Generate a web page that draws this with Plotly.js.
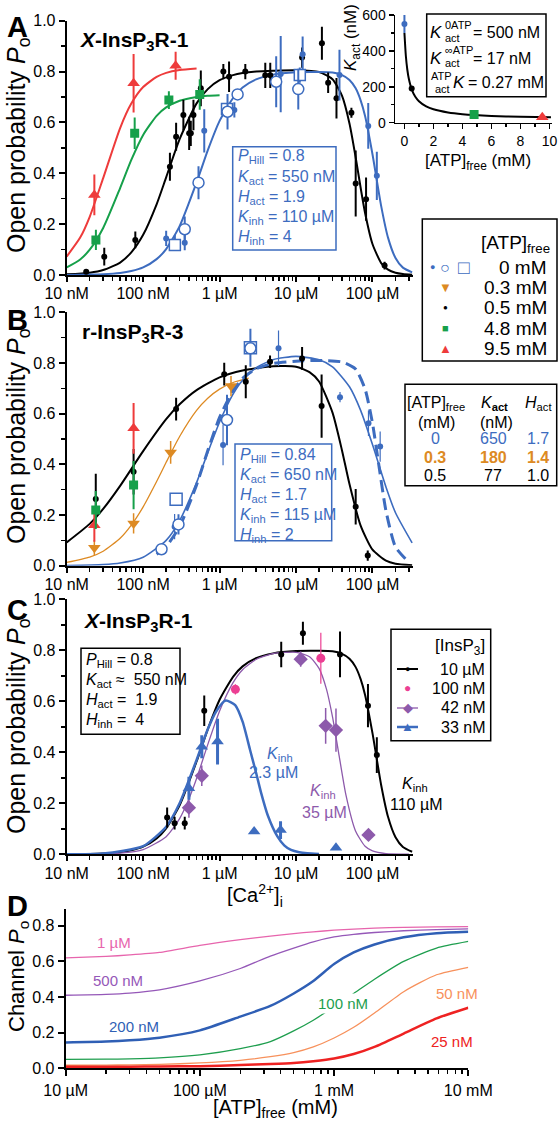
<!DOCTYPE html>
<html><head><meta charset="utf-8">
<script src="https://cdn.plot.ly/plotly-3.0.1.min.js"></script>
<style>html,body{margin:0;padding:0;background:#fff}</style>
</head><body><div id="chart" style="width:558px;height:1123px"></div>
<script>
// ---------- tick labels ----------
const caTickVals = [0.01, 0.1, 1, 10, 100];
const caTickText = ['10 nM', '100 nM', '1 µM', '10 µM', '100 µM'];
const atpTickVals = [10, 100, 1000, 10000];
const atpTickText = ['10 µM', '100 µM', '1 mM', '10 mM'];
const poTickVals = [0, 0.2, 0.4, 0.6, 0.8, 1.0];
const poTickText = ['0.0', '0.2', '0.4', '0.6', '0.8', '1.0'];
const insetXTicks = [0, 2, 4, 6, 8, 10];
const insetYTicks = [0, 200, 400, 600];

// ---------- Panel A curves (x = [Ca2+] in µM) ----------
const A_curveX = [0.01,0.02,0.03,0.05,0.07,0.1,0.15,0.2,0.3,0.5,0.7,1,1.5,2,3,5,10,20,30,40,50,60,70,80,100,130,160,200,250,330];
const A_blueCurve = [0.0004,0.0015,0.0032,0.0083,0.0156,0.030,0.0625,0.102,0.192,0.364,0.49,0.606,0.696,0.737,0.769,0.788,0.797,0.798,0.796,0.786,0.767,0.735,0.687,0.625,0.475,0.271,0.146,0.067,0.029,0.010];
const A_blackCurve = [0.0025,0.0091,0.0195,0.049,0.089,0.158,0.278,0.384,0.534,0.675,0.731,0.766,0.786,0.794,0.80,0.803,0.805,0.798,0.770,0.704,0.596,0.466,0.343,0.244,0.122,0.047,0.021,0.009,0.004,0.001];
const A_greenX = [0.01,0.015,0.02,0.03,0.05,0.07,0.1,0.15,0.2,0.3,0.5,0.7,1];
const A_greenCurve = [0.0297,0.0612,0.0994,0.185,0.342,0.4525,0.551,0.626,0.659,0.685,0.700,0.705,0.707];
const A_redX = [0.01,0.015,0.02,0.03,0.05,0.07,0.1,0.15,0.2,0.3,0.5];
const A_redCurve = [0.0725,0.147,0.229,0.381,0.578,0.674,0.739,0.779,0.795,0.806,0.812];

// ---------- Panel A data ----------
const A_blueDotX = [0.20,0.26,0.35,0.63,1.56,6.3,12.2,37,88,114];
const A_blueDotY = [0.144,0.127,0.127,0.567,0.649,0.79,0.868,0.786,0.586,0.39];
const A_blueDotE = [0.03,0.03,0.03,0.085,0.03,0.15,0.07,0.1,0.09,0.095];
const A_blueCircX = [0.35,0.53,1.27,1.72,5.5,10.7];
const A_blueCircY = [0.18,0.363,0.642,0.71,0.76,0.731];
const A_blueCircE = [0.05,0.065,0.07,0,0.1,0.08];
const A_blueSqX = [0.26,1.25,11.2];
const A_blueSqY = [0.118,0.653,0.786];
const A_blueSqE = [0.02,0,0.03];
const A_blackX = [0.018,0.031,0.079,0.224,0.27,0.336,0.40,0.42,0.455,0.568,1.12,1.33,2.17,3.96,4.6,12.0,21.8,26.3,33.8,53,60.3,82.4,144];
const A_blackY = [0.013,0.072,0.138,0.426,0.544,0.629,0.557,0.557,0.629,0.734,0.80,0.78,0.80,0.785,0.785,0.855,0.911,0.756,0.695,0.638,0.36,0.298,0.037];
const A_blackE = [0,0.035,0.033,0.055,0.055,0.06,0.065,0.05,0.06,0.07,0.03,0.06,0.03,0.05,0.05,0.04,0.065,0.04,0.08,0.02,0.13,0.085,0.015];
const A_greenX_d = [0.0241,0.0775,0.217,0.55];
const A_greenY_d = [0.138,0.557,0.688,0.71];
const A_greenE_d = [0.04,0.062,0.035,0.06];
const A_redX_d = [0.023,0.075,0.266];
const A_redY_d = [0.315,0.754,0.823];
const A_redE_d = [0.08,0.115,0.055];

// ---------- Panel B curves ----------
const B_blackX = [0.01,0.02,0.03,0.05,0.1,0.2,0.3,0.5,1,2,5,10,15,20,30,40,50,70,100,150,200,330];
const B_blackCurve = [0.092,0.165,0.224,0.315,0.452,0.578,0.637,0.693,0.743,0.77,0.787,0.785,0.764,0.727,0.604,0.454,0.322,0.158,0.063,0.020,0.008,0.002];
const B_orangeX = [0.01,0.02,0.03,0.05,0.07,0.1,0.15,0.2,0.3,0.5,0.7,1,1.5,2.4];
const B_orangeCurve = [0.013,0.034,0.057,0.108,0.16,0.232,0.332,0.408,0.51,0.613,0.661,0.697,0.723,0.74];
const B_blueX = [0.01,0.03,0.05,0.1,0.2,0.3,0.5,0.7,1,1.5,2,3,5,10,20,30,50,70,100,150,200,330];
const B_blueCurve = [0.0007,0.0045,0.0106,0.0335,0.0998,0.178,0.328,0.446,0.567,0.677,0.732,0.781,0.813,0.826,0.8125,0.785,0.706,0.613,0.478,0.311,0.209,0.09];
const B_dashX = [0.15,0.2,0.3,0.5,0.7,1,1.5,2,3,5,10,20,40,60,80,100,120,150,200,300];
const B_dashCurve = [0.045,0.076,0.154,0.319,0.454,0.585,0.692,0.739,0.777,0.798,0.807,0.81,0.804,0.776,0.697,0.5625,0.405,0.217,0.074,0.013];

// ---------- Panel B data ----------
const B_blackX_d = [0.024,0.075,0.27,1.15,2.2,4.57,12,21.6,60.3,86.7];
const B_blackY_d = [0.263,0.371,0.618,0.756,0.726,0.805,0.818,0.63,0.233,0.04];
const B_blackE_d = [0.1,0.09,0.045,0.045,0.065,0.025,0.045,0.125,0.07,0.02];
const B_greenX_d = [0.024,0.075];
const B_greenY_d = [0.22,0.318];
const B_greenE_d = [0.075,0.095];
const B_redX_d = [0.023,0.075];
const B_redY_d = [0.16,0.542];
const B_redE_d = [0.065,0.1];
const B_orangeX_d = [0.023,0.075,0.229,1.41];
const B_orangeY_d = [0.071,0.167,0.447,0.709];
const B_orangeE_d = [0.03,0.04,0.045,0.04];
const B_blueCircX = [0.174,0.29,1.25,2.53];
const B_blueCircY = [0.065,0.163,0.575,0.858];
const B_blueCircE = [0,0.04,0.1,0];
const B_blueSqX = [0.27,2.53];
const B_blueSqY = [0.262,0.86];
const B_blueSqE = [0,0.075];
const B_blueDotX = [0.258,1.11,5.9,37.6,88.6,126];
const B_blueDotY = [0.154,0.476,0.858,0.665,0.562,0.47];
const B_blueDotE = [0.05,0.08,0.07,0.02,0.05,0.06];

// ---------- Panel C curves ----------
const C_blackCurve = A_blueCurve;
const C_purpleX = [0.01,0.05,0.1,0.2,0.3,0.4,0.5,0.7,1,1.5,2,3,5,10,15,20,25,30,36,45,60,80,100,150,300];
const C_purpleCurve = [0.0002,0.0047,0.0185,0.069,0.14,0.22,0.297,0.43,0.562,0.673,0.724,0.764,0.787,0.792,0.775,0.729,0.648,0.539,0.4,0.232,0.0917,0.0315,0.0132,0.0026,0.0002];
const C_blueX = [0.01,0.03,0.1,0.2,0.3,0.5,0.7,0.9,1.2,1.6,2,2.5,3,3.5,4.3,5.7,7,8.6,11,14,20];
const C_blueCurve = [0.0004,0.0034,0.032,0.108,0.2,0.37,0.49,0.56,0.603,0.585,0.52,0.41,0.32,0.24,0.15,0.07,0.035,0.017,0.008,0.004,0.001];

// ---------- Panel C data ----------
const C_blackX_d = [0.206,0.258,0.35,0.63,6.4,12.3,37.6,87.3,114];
const C_blackY_d = [0.144,0.122,0.122,0.563,0.784,0.867,0.784,0.583,0.389];
const C_blackE_d = [0.04,0.025,0.025,0.06,0.05,0.045,0.09,0.085,0.07];
const C_pinkX_d = [1.61,21.1];
const C_pinkY_d = [0.647,0.769];
const C_pinkE_d = [0.02,0.1];
const C_purpleX_d = [0.397,0.585,11.5,24.4,33.3,88.6];
const C_purpleY_d = [0.183,0.308,0.765,0.504,0.487,0.076];
const C_purpleE_d = [0.04,0.04,0.03,0.07,0.085,0];
const C_blueX_d = [0.397,0.585,0.94,2.83,6.27,33.3];
const C_blueY_d = [0.259,0.422,0.442,0.089,0.095,0.026];
const C_blueE_d = [0.045,0.045,0.09,0,0.035,0];

// ---------- Panel D curves (x = [ATP]free in µM) ----------
const D_x = [10,20,30,50,100,200,335,500,700,1000,1400,2000,3300,5800,10000];
const D_1uM   = [0.62,0.628,0.636,0.65,0.69,0.722,0.742,0.756,0.766,0.775,0.781,0.787,0.791,0.794,0.795];
const D_500nM = [0.41,0.415,0.422,0.44,0.49,0.56,0.63,0.675,0.71,0.737,0.752,0.762,0.772,0.778,0.782];
const D_200nM = [0.145,0.15,0.157,0.172,0.213,0.29,0.35,0.42,0.49,0.585,0.65,0.695,0.735,0.758,0.766];
const D_100nM = [0.05,0.051,0.053,0.058,0.075,0.11,0.15,0.21,0.27,0.345,0.42,0.5,0.6,0.675,0.712];
const D_50nM  = [0.017,0.018,0.019,0.022,0.03,0.045,0.065,0.088,0.12,0.17,0.23,0.31,0.43,0.525,0.567];
const D_25nM  = [0.008,0.008,0.009,0.01,0.012,0.018,0.024,0.03,0.04,0.055,0.08,0.12,0.195,0.28,0.34];

// ---------- Inset (Kact vs ATP) ----------
const I_curveX = [0,0.1,0.2,0.3,0.5,0.75,1,1.5,2,3,4,6,8,10.1];
const I_curveY = [500,370,295,246,186,145,120,91,74.5,57,47.6,37.8,32.8,29.7];
const I_blueX = [0];   const I_blueY = [550]; const I_blueE = [50];
const I_blackX = [0.5]; const I_blackY = [190];
const I_greenX = [4.8]; const I_greenY = [45];
const I_redX = [9.5];   const I_redY = [30];

// ---------- colours ----------
const BLUE = '#3d6cbf', RED = '#ee3b3b', GREEN = '#16a04a', ORANGE = '#dd8a23';
const PURPLE = '#8d5aab', PINK = '#ec3f93';
const D_PINK = '#e765ad', D_PURPLE = '#9558b8', D_BLUE = '#2f5fb5', D_GREEN = '#1e9e4e', D_ORANGE = '#f7915c', D_RED = '#ee2222';

// ---------- helpers ----------
const W = 558, H = 1123;
const fx = p => p / W, fy = p => 1 - p / H;
function curve(x, y, xa, ya, color, width, dash) {
  return {x, y, xaxis: xa, yaxis: ya, mode: 'lines', hoverinfo: 'skip', showlegend: false,
    line: {color, width, dash: dash || 'solid', shape: 'spline', smoothing: 0.6}};
}
function pts(x, y, err, xa, ya, symbol, size, lineColor, fill, lw, ebw) {
  const t = {x, y, xaxis: xa, yaxis: ya, mode: 'markers', showlegend: false, hoverinfo: 'skip',
    marker: {symbol, size, color: fill, line: {color: lineColor, width: lw}}};
  if (err) t.error_y = {type: 'data', array: err, visible: true, color: lineColor, thickness: ebw, width: 0};
  return t;
}
function logMinor(lo, hi) {
  const v = [];
  for (let d = lo; d < hi; d *= 10) for (let k = 2; k <= 9; k++) { const t = d * k; if (t <= hi) v.push(+t.toPrecision(3)); }
  return v;
}
const axBase = {showline: true, linecolor: 'black', linewidth: 2, ticks: 'outside', ticklen: 6, tickwidth: 2,
  tickcolor: 'black', showgrid: false, zeroline: false, tickfont: {size: 16, color: 'black'}, fixedrange: true};
function caAxis(anchor) {
  return Object.assign({}, axBase, {type: 'log', range: [-2, 2.53], domain: [fx(66.7), fx(413)], anchor, ticklen: 5,
    ticklabelstandoff: -2,
    tickmode: 'array', tickvals: caTickVals, ticktext: caTickText,
    minor: {tickmode: 'array', tickvals: logMinor(0.01, 340), ticks: 'outside', ticklen: 4, tickwidth: 1.5, tickcolor: 'black'}});
}
function poAxis(anchor, top, bottom) {
  return Object.assign({}, axBase, {range: [0, 1], domain: [fy(bottom), fy(top)], anchor,
    tickmode: 'array', tickvals: poTickVals, ticktext: poTickText,
    minor: {tickmode: 'array', tickvals: [0.1, 0.3, 0.5, 0.7, 0.9], ticks: 'outside', ticklen: 4, tickwidth: 1.5, tickcolor: 'black'}});
}

const traces = [];
// Panel A
traces.push(curve(A_redX, A_redCurve, 'x', 'y', RED, 2));
traces.push(curve(A_greenX, A_greenCurve, 'x', 'y', GREEN, 2));
traces.push(curve(A_curveX, A_blackCurve, 'x', 'y', 'black', 2));
traces.push(curve(A_curveX, A_blueCurve, 'x', 'y', BLUE, 2));
traces.push(pts(A_blackX, A_blackY, A_blackE, 'x', 'y', 'circle', 6, 'black', 'black', 0, 2));
traces.push(pts(A_blueDotX, A_blueDotY, A_blueDotE, 'x', 'y', 'circle', 6, BLUE, BLUE, 0, 2));
traces.push(pts(A_blueSqX, A_blueSqY, A_blueSqE, 'x', 'y', 'square', 11, BLUE, 'white', 1.5, 2));
traces.push(pts(A_blueCircX, A_blueCircY, A_blueCircE, 'x', 'y', 'circle', 11, BLUE, 'white', 1.5, 2));
traces.push(pts(A_greenX_d, A_greenY_d, A_greenE_d, 'x', 'y', 'square', 9, GREEN, GREEN, 0, 2));
traces.push(pts(A_redX_d, A_redY_d, A_redE_d, 'x', 'y', 'triangle-up', 11, RED, RED, 0, 2));
// Panel B
traces.push(curve(B_blackX, B_blackCurve, 'x2', 'y2', 'black', 2));
traces.push(curve(B_orangeX, B_orangeCurve, 'x2', 'y2', ORANGE, 1.3));
traces.push(curve(B_blueX, B_blueCurve, 'x2', 'y2', BLUE, 1.6));
traces.push(curve(B_dashX, B_dashCurve, 'x2', 'y2', BLUE, 3, '12px,6px'));
traces.push(pts(B_blackX_d, B_blackY_d, B_blackE_d, 'x2', 'y2', 'circle', 6, 'black', 'black', 0, 2));
traces.push(pts(B_blueDotX, B_blueDotY, B_blueDotE, 'x2', 'y2', 'circle', 6, BLUE, BLUE, 0, 1.2));
traces.push(pts(B_blueSqX, B_blueSqY, B_blueSqE, 'x2', 'y2', 'square', 12, BLUE, 'white', 1.5, 2));
traces.push(pts(B_blueCircX, B_blueCircY, B_blueCircE, 'x2', 'y2', 'circle', 11, BLUE, 'white', 1.5, 2));
traces.push(pts(B_orangeX_d, B_orangeY_d, B_orangeE_d, 'x2', 'y2', 'triangle-down', 11, ORANGE, ORANGE, 0, 1.5));
traces.push(pts(B_redX_d, B_redY_d, B_redE_d, 'x2', 'y2', 'triangle-up', 11, RED, RED, 0, 2));
traces.push(pts(B_greenX_d, B_greenY_d, B_greenE_d, 'x2', 'y2', 'square', 9, GREEN, GREEN, 0, 2));
// Panel C
traces.push(curve(A_curveX, C_blackCurve, 'x3', 'y3', 'black', 2));
traces.push(curve(C_purpleX, C_purpleCurve, 'x3', 'y3', PURPLE, 1.3));
traces.push(curve(C_blueX, C_blueCurve, 'x3', 'y3', BLUE, 2.5));
traces.push(pts(C_blackX_d, C_blackY_d, C_blackE_d, 'x3', 'y3', 'circle', 6, 'black', 'black', 0, 2));
traces.push(pts(C_pinkX_d, C_pinkY_d, C_pinkE_d, 'x3', 'y3', 'circle', 9, PINK, PINK, 0, 1.2));
traces.push(pts(C_purpleX_d, C_purpleY_d, C_purpleE_d, 'x3', 'y3', 'diamond', 11, PURPLE, PURPLE, 0, 1.5));
traces.push(pts(C_blueX_d, C_blueY_d, C_blueE_d, 'x3', 'y3', 'triangle-up', 11, BLUE, BLUE, 0, 3));
// Panel D
traces.push(curve(D_x, D_1uM, 'x4', 'y4', D_PINK, 1.3));
traces.push(curve(D_x, D_500nM, 'x4', 'y4', D_PURPLE, 1.3));
traces.push(curve(D_x, D_200nM, 'x4', 'y4', D_BLUE, 2.5));
traces.push(curve(D_x, D_100nM, 'x4', 'y4', D_GREEN, 1.3));
traces.push(curve(D_x, D_50nM, 'x4', 'y4', D_ORANGE, 1.3));
traces.push(curve(D_x, D_25nM, 'x4', 'y4', D_RED, 2.5));
// Inset
traces.push(curve(I_curveX, I_curveY, 'x5', 'y5', 'black', 2));
traces.push(pts(I_blueX, I_blueY, I_blueE, 'x5', 'y5', 'circle', 6, BLUE, BLUE, 0, 2));
traces.push(pts(I_blackX, I_blackY, null, 'x5', 'y5', 'circle', 6, 'black', 'black', 0, 2));
traces.push(pts(I_greenX, I_greenY, null, 'x5', 'y5', 'square', 9, GREEN, GREEN, 0, 2));
traces.push(pts(I_redX, I_redY, null, 'x5', 'y5', 'triangle-up', 11, RED, RED, 0, 2));

// ---------- annotations ----------
const ann = [];
function A(x, y, text, size, o) {
  const a = Object.assign({xref: 'paper', yref: 'paper', x: fx(x), y: fy(y), text, showarrow: false,
    xanchor: 'center', yanchor: 'middle'}, o || {});
  a.font = Object.assign({family: 'Liberation Sans, Arial, sans-serif', size, color: 'black'}, (o && o.font) || {});
  a.font.size = size;
  ann.push(a);
}
function col(c) { return {font: {color: c}}; }
// panel letters & titles
A(17, 27, '<b>A</b>', 29); A(17, 320, '<b>B</b>', 29); A(17, 610, '<b>C</b>', 29); A(17, 906, '<b>D</b>', 29);
A(78, 41, '<b><i>X</i>-InsP<sub>3</sub>R-1</b>', 21, {xanchor: 'left'});
A(80, 333, '<b>r-InsP<sub>3</sub>R-3</b>', 21, {xanchor: 'left'});
A(82, 622, '<b><i>X</i>-InsP<sub>3</sub>R-1</b>', 21, {xanchor: 'left'});
// axis titles
const yt = 'Open probability <i>P</i><sub>o</sub>';
A(18, 146, yt, 25, {textangle: -90});
A(18, 437, yt, 25, {textangle: -90});
A(18, 727, yt, 25, {textangle: -90});
A(18, 977, 'Channel <i>P</i><sub>o</sub>', 22, {textangle: -90});
A(255, 895, '[Ca<sup>2+</sup>]<sub>i</sub>', 20);
A(275, 1108, '[ATP]<sub>free</sub> (mM)', 20);
// parameter boxes
function paramLines(x, ys, lines, color) {
  lines.forEach((t, i) => A(x, ys[i], t, 16, {xanchor: 'left', font: {color}}));
}
paramLines(236, [157, 177, 197, 217, 237],
  ['<i>P</i><sub>Hill</sub> = 0.8', '<i>K</i><sub>act</sub> = 550 nM', '<i>H</i><sub>act</sub> = 1.9', '<i>K</i><sub>inh</sub> = 110 µM', '<i>H</i><sub>inh</sub> = 4'], BLUE);
paramLines(238, [455, 475, 495, 515, 535],
  ['<i>P</i><sub>Hill</sub> = 0.84', '<i>K</i><sub>act</sub> = 650 nM', '<i>H</i><sub>act</sub> = 1.7', '<i>K</i><sub>inh</sub> = 115 µM', '<i>H</i><sub>inh</sub> = 2'], BLUE);
paramLines(84, [660, 680, 700, 720],
  ['<i>P</i><sub>Hill</sub> = 0.8', '<i>K</i><sub>act</sub> ≈  550 nM', '<i>H</i><sub>act</sub> =  1.9', '<i>H</i><sub>inh</sub> =  4'], 'black');
// inset text box
A(428, 33, '<i>K</i>', 17, {xanchor: 'left'});
A(443, 25, '0ATP', 11, {xanchor: 'left'});
A(443, 38, 'act', 11, {xanchor: 'left'});
A(471, 33, '= 500 nM', 16, {xanchor: 'left'});
A(428, 58, '<i>K</i>', 17, {xanchor: 'left'});
A(443, 50, '∞ATP', 11, {xanchor: 'left'});
A(443, 63, 'act', 11, {xanchor: 'left'});
A(471, 58, '= 17 nM', 16, {xanchor: 'left'});
A(429, 76, 'ATP', 11, {xanchor: 'left'});
A(433, 89, 'act', 11, {xanchor: 'left'});
A(451, 83, '<i>K</i>', 17, {xanchor: 'left'});
A(466, 83, '= 0.27 mM', 16, {xanchor: 'left'});
A(352, 38, '<i>K</i><sub>act</sub> (nM)', 17, {textangle: -90});
A(478, 162, '[ATP]<sub>free</sub> (mM)', 17);
// ATP legend (A/B)
A(552, 244, '[ATP]<sub>free</sub>', 19, {xanchor: 'right'});
const legRows = [['0 mM', 267], ['0.3 mM', 287], ['0.5 mM', 307], ['4.8 mM', 328], ['9.5 mM', 348]];
legRows.forEach(r => A(549, r[1], r[0], 19, {xanchor: 'right'}));
A(432, 267, '●', 9, col(BLUE));
A(445, 267, '○', 16, col(BLUE));
A(464, 267, '□', 19, col(BLUE));
A(445, 288, '▼', 13, col(ORANGE));
A(445, 307, '●', 8, col('black'));
A(445, 328, '■', 11, col(GREEN));
A(445, 348, '▲', 13, col(RED));
// ATP table (B)
A(436, 403, '[ATP]<sub>free</sub>', 16);
A(494, 403, '<i>K</i><sub><b>act</b></sub>', 16);
A(538, 403, '<i>H</i><sub>act</sub>', 16);
A(436, 422, '(mM)', 16); A(496, 422, '(nM)', 16);
[['0', '650', '1.7', BLUE, 438], ['<b>0.3</b>', '<b>180</b>', '<b>1.4</b>', ORANGE, 457], ['0.5', '77', '1.0', 'black', 475]].forEach(r => {
  A(435, r[4], r[0], 16, col(r[3]));
  A(493, r[4], r[1], 16, col(r[3]));
  A(538, r[4], r[2], 16, col(r[3]));
});
// InsP3 legend (C)
A(487, 647, '[InsP<sub>3</sub>]', 17, {xanchor: 'right'});
[['10 µM', 669], ['100 nM', 688], ['42 nM', 708], ['33 nM', 727]].forEach(r => A(487, r[1], r[0], 16, {xanchor: 'right'}));
A(407.5, 669, '●', 9, col('black'));
A(407.5, 688, '●', 12, col(PINK));
A(407.5, 708, '◆', 13, col(PURPLE));
A(407.5, 726, '▲', 13, col(BLUE));
// curve labels C
A(280, 754, '<i>K</i><sub>inh</sub>', 16, col(BLUE));
A(273, 772, '2.3 µM', 16, col(BLUE));
A(323, 791, '<i>K</i><sub>inh</sub>', 16, col(PURPLE));
A(324, 812, '35 µM', 16, col(PURPLE));
A(415, 784, '<i>K</i><sub>inh</sub>', 16);
A(416, 804, '110 µM', 16);
// curve labels D
A(114, 942, '1 µM', 15, col(D_PINK));
A(118, 980, '500 nM', 15, col(D_PURPLE));
A(134, 1026, '200 nM', 15, col(D_BLUE));
A(343, 1003, '100 nM', 15, {font: {color: D_GREEN}, bgcolor: 'white'});
A(457, 994, '50 nM', 15, col(D_ORANGE));
A(452, 1041, '25 nM', 15, col(D_RED));

// ---------- shapes (boxes, legend lines) ----------
const shapes = [];
function box(x0, y0, x1, y1, color, w) {
  shapes.push({type: 'rect', xref: 'paper', yref: 'paper', x0: fx(x0), x1: fx(x1), y0: fy(y0), y1: fy(y1),
    line: {color, width: w}, fillcolor: 'rgba(0,0,0,0)'});
}
function seg(x0, x1, y, color, w) {
  shapes.push({type: 'line', xref: 'paper', yref: 'paper', x0: fx(x0), x1: fx(x1), y0: fy(y), y1: fy(y), line: {color, width: w}});
}
box(232.7, 146.7, 336, 250, BLUE, 1.5);
box(235, 444, 331.7, 540.7, BLUE, 1.5);
box(81, 648.3, 180, 734.3, 'black', 1.5);
box(426.7, 14, 546, 96.7, 'black', 1.5);
box(422.3, 219, 557, 361, 'black', 1.5);
box(405, 384.3, 556.7, 485.7, 'black', 1.5);
box(391, 629.3, 490.7, 740.7, 'black', 1.5);
seg(397, 418, 669, 'black', 2);
seg(397, 418, 708, PURPLE, 1.3);
seg(397, 418, 727, BLUE, 2.5);

const layout = {
  width: W, height: H, margin: {l: 0, r: 0, t: 0, b: 0}, showlegend: false,
  paper_bgcolor: 'white', plot_bgcolor: 'rgba(0,0,0,0)',
  font: {family: 'Liberation Sans, Arial, sans-serif', color: 'black', size: 16},
  xaxis: caAxis('y'), yaxis: poAxis('x', 20.7, 275),
  xaxis2: caAxis('y2'), yaxis2: poAxis('x2', 312.3, 565.7),
  xaxis3: caAxis('y3'), yaxis3: poAxis('x3', 599.3, 854.3),
  xaxis4: Object.assign({}, axBase, {type: 'log', range: [1, 4], domain: [fx(65.7), fx(468.3)], anchor: 'y4',
    tickmode: 'array', tickvals: atpTickVals, ticktext: atpTickText,
    minor: {tickmode: 'array', tickvals: logMinor(10, 10000), ticks: 'outside', ticklen: 4, tickwidth: 1.5, tickcolor: 'black'}}),
  yaxis4: Object.assign({}, axBase, {range: [0, 0.894], domain: [fy(1068.3), fy(909)], anchor: 'x4',
    tickmode: 'array', tickvals: [0, 0.2, 0.4, 0.6, 0.8], ticktext: ['0.0', '0.2', '0.4', '0.6', '0.8']}),
  xaxis5: Object.assign({}, axBase, {range: [-0.65, 10.15], domain: [fx(395), fx(551.7)], anchor: 'y5', linewidth: 1.5,
    tickmode: 'array', tickvals: insetXTicks, tickfont: {size: 14, color: 'black'}, ticklen: 5, tickwidth: 1.5,
    minor: {tickmode: 'array', tickvals: [1, 3, 5, 7, 9], ticks: 'outside', ticklen: 3, tickwidth: 1.2, tickcolor: 'black'}}),
  yaxis5: Object.assign({}, axBase, {range: [0, 600], domain: [fy(122.7), fy(15)], anchor: 'x5', linewidth: 1.5,
    tickmode: 'array', tickvals: insetYTicks, tickfont: {size: 14, color: 'black'}, ticklen: 5, tickwidth: 1.5,
    minor: {tickmode: 'array', tickvals: [100, 300, 500], ticks: 'outside', ticklen: 3, tickwidth: 1.2, tickcolor: 'black'}}),
  annotations: ann, shapes: shapes
};
Plotly.newPlot('chart', traces, layout, {staticPlot: true, displayModeBar: false});
</script></body></html>
